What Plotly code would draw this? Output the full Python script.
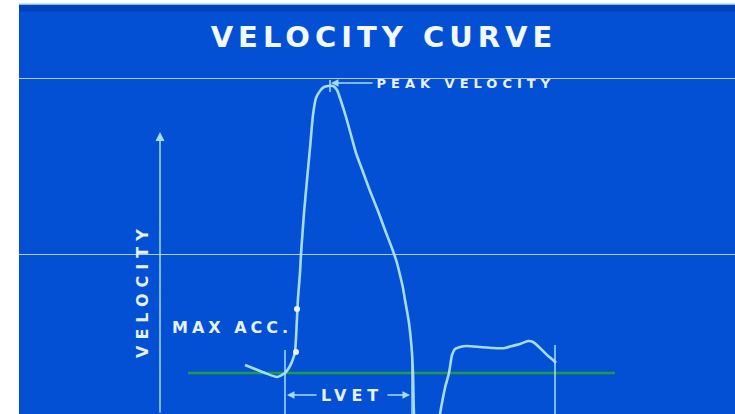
import plotly.graph_objects as go

# Velocity curve (time, velocity above baseline)
TIME = [245, 255, 265, 277, 285, 290, 293, 295, 296, 297, 298, 300, 301, 304, 307,
        310, 313, 316, 320, 324, 328, 333, 337, 341, 346, 351, 356, 363, 370,
        378, 385, 393, 397, 400, 403, 405, 407, 409, 411, 412, 413, 414, 417, 428,
        437, 440, 445, 449, 452, 455, 460, 467, 480, 493, 505, 512, 520, 528, 533,
        540, 547, 553, 556]
VELOCITY = [8, 4, 0, -4, 0, 7, 14, 21, 35, 55, 75, 100, 119, 160, 193,
            225, 258, 275, 282, 286, 287, 287, 283, 272, 256, 238, 220, 201, 182,
            162, 143, 122, 110, 98, 85, 73, 62, 50, 32, 20, 0, -41, -70, -85,
            -60, -41, -15, 0, 18, 24, 26, 27, 26, 25, 25, 27, 29, 32, 31,
            25, 18, 13, 10]

# baseline (green)
BASE_START = 188
BASE_END = 615

# vertical timing markers: time, top of line
MARK_TIMES = [285, 412, 555]
MARK_TOPS = [23, 25, 28]

# points marked on upstroke
DOT_TIMES = [296, 297]
DOT_VELS = [21, 64]

# grid levels
GRID_LEVELS = [119, 295]

PEAK_T, PEAK_V = 331, 290
LVET_START, LVET_END, LVET_V = 287, 410, -22
LVET_GAP = (318, 386)   # where the label sits on the span

BG = "#0350d5"
CURVE = "#a6dcf4"
TXT = "#e6f2fb"

fig = go.Figure()

fig.add_trace(go.Scatter(x=[BASE_START, BASE_END], y=[0, 0], mode="lines",
                         line=dict(color="#1f9a45", width=2.5), hoverinfo="skip"))

mx, my = [], []
for t, top in zip(MARK_TIMES, MARK_TOPS):
    mx += [t, t, None]
    my += [top, -60, None]
# little tick at the peak
mx += [PEAK_T - 1, PEAK_T - 1]
my += [PEAK_V - 9, PEAK_V + 3]
fig.add_trace(go.Scatter(x=mx, y=my, mode="lines",
                         line=dict(color=CURVE, width=1.5), hoverinfo="skip"))

fig.add_trace(go.Scatter(x=TIME, y=VELOCITY, mode="lines",
                         line=dict(color=CURVE, width=2.6, shape="spline", smoothing=0.5),
                         hoverinfo="skip"))

fig.add_trace(go.Scatter(x=DOT_TIMES, y=DOT_VELS, mode="markers",
                         marker=dict(color="#eaf6ff", size=6), hoverinfo="skip"))

# velocity axis arrow
fig.add_annotation(x=160, y=241, ax=160, ay=-41, xref="x", yref="y", axref="x", ayref="y",
                   showarrow=True, arrowhead=2, arrowsize=1.2, arrowwidth=1.5,
                   arrowcolor=CURVE, text="")
fig.add_annotation(x=142, y=82, text="<b>VELOCITY</b>", textangle=-90, showarrow=False,
                   font=dict(family="DejaVu Sans", size=16, color=TXT))

# peak velocity
fig.add_annotation(x=PEAK_T, y=PEAK_V, ax=374, ay=PEAK_V, xref="x", yref="y",
                   axref="x", ayref="y", showarrow=True, arrowhead=2, arrowsize=1,
                   arrowwidth=1.5, arrowcolor=CURVE, text="")
fig.add_annotation(x=466, y=PEAK_V, text="<b>PEAK VELOCITY</b>",
                   showarrow=False, font=dict(family="DejaVu Sans", size=13, color=TXT))

# max acceleration
fig.add_annotation(x=232, y=46, text="<b>MAX ACC.</b>", showarrow=False,
                   font=dict(family="DejaVu Sans", size=16, color=TXT))

# LVET span: two arrows either side of the label
for head, tail in [(LVET_START, LVET_GAP[0]), (LVET_END, LVET_GAP[1])]:
    fig.add_annotation(x=head, y=LVET_V, ax=tail, ay=LVET_V, xref="x", yref="y",
                       axref="x", ayref="y", showarrow=True, arrowhead=2,
                       arrowsize=1, arrowwidth=1.5, arrowcolor=CURVE, text="")
fig.add_annotation(x=sum(LVET_GAP) / 2, y=LVET_V, text="<b>LVET</b>", showarrow=False,
                   font=dict(family="DejaVu Sans", size=16, color=TXT))

# top edge highlight
fig.add_shape(type="line", xref="paper", yref="paper", x0=0, x1=1, y0=1, y1=1,
              line=dict(color="#a8e4f4", width=1.5))
fig.add_shape(type="rect", xref="paper", yref="paper", x0=0, x1=1, y0=0.982, y1=0.997,
              fillcolor="rgba(0,20,90,0.25)", line_width=0, layer="below")

fig.update_xaxes(range=[19, 735], visible=False, showgrid=False, zeroline=False)
fig.update_yaxes(range=[-41, 369], showgrid=True, gridcolor="rgba(215,225,245,0.85)",
                 gridwidth=1, tickvals=GRID_LEVELS, showticklabels=False, zeroline=False,
                 showline=False, ticks="")

fig.update_layout(
    width=735, height=414,
    margin=dict(l=19, r=0, t=4, b=0),
    paper_bgcolor="white", plot_bgcolor=BG,
    showlegend=False,
    title=dict(text="<b>VELOCITY CURVE</b>", x=384 / 735, y=1 - 37 / 414,
               xanchor="center", yanchor="middle",
               font=dict(family="DejaVu Sans", size=29, color="#f2f8ff")),
)

# page margin off, and the wide letter spacing of the original lettering
post = """
document.body.style.margin = '0px';
var spacing = {'VELOCITY CURVE': '5px', 'PEAK VELOCITY': '5px', 'MAX ACC.': '4px',
               'LVET': '5px', 'VELOCITY': '6px'};
document.querySelectorAll('.gtitle, .annotation-text').forEach(function (el) {
    var s = spacing[el.textContent.trim()];
    if (s) { el.style.letterSpacing = s; }
});
"""
fig.write_html("out.html", post_script=post, config={"displayModeBar": False})
